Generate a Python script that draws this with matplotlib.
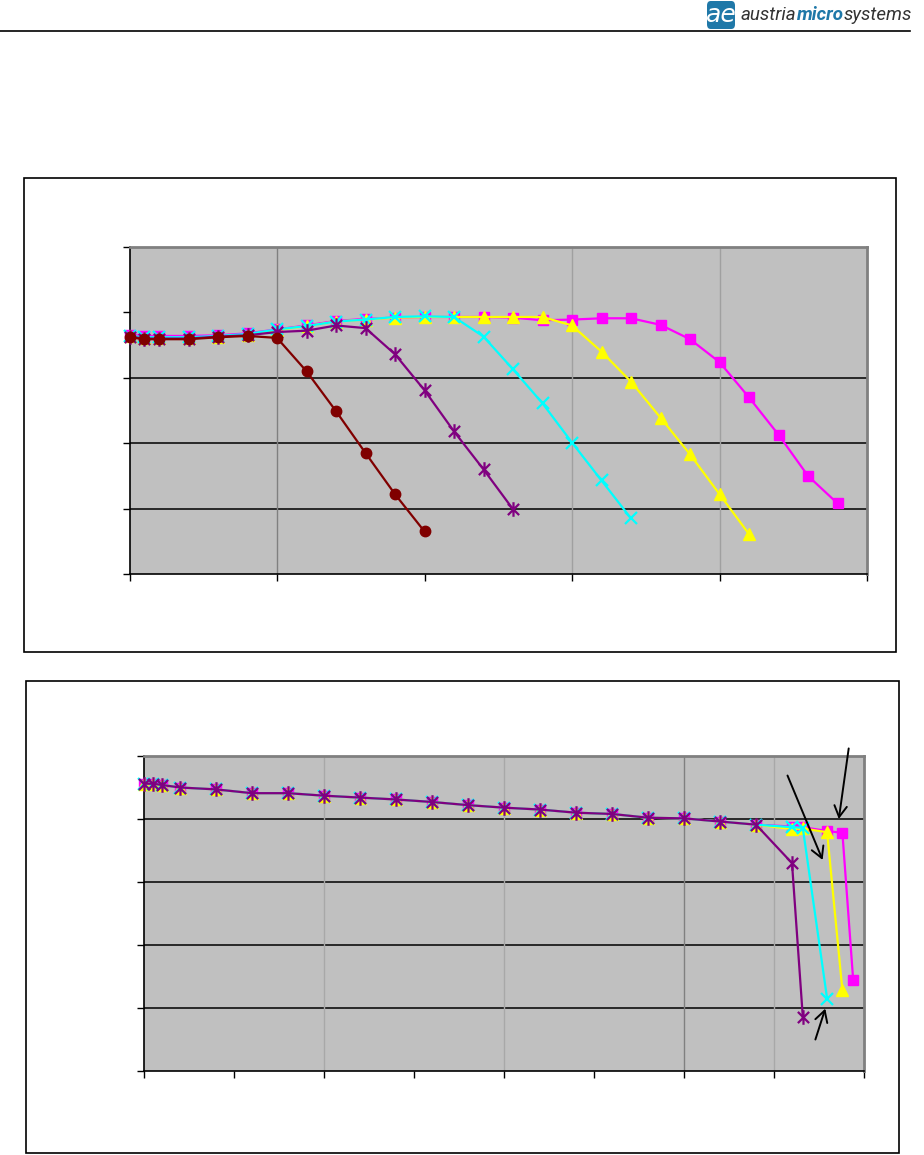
"""
Two line charts (Excel style) with header logo, no tick labels.
"""

import matplotlib.pyplot as plt
from matplotlib.patches import Rectangle, FancyBboxPatch
from matplotlib.lines import Line2D
from matplotlib.path import Path
from matplotlib.offsetbox import TextArea, HPacker, AnnotationBbox

# ---- top chart data ----
x_top = [0, 0.1, 0.2, 0.4, 0.6, 0.8, 1.0, 1.2, 1.4, 1.6, 1.8, 2.0, 2.2, 2.4,
         2.6, 2.8, 3.0, 3.2, 3.4, 3.6, 3.8, 4.0, 4.2, 4.4, 4.6, 4.8]

top_magenta = [3.66, 3.64, 3.64, 3.64, 3.65, 3.68, 3.74, 3.80, 3.87, 3.90,
               3.92, 3.93, 3.93, 3.93, 3.92, 3.88, 3.89, 3.91, 3.91, 3.81,
               3.59, 3.24, 2.70, 2.13, 1.50, 1.08]
top_yellow = [3.64, 3.61, 3.61, 3.61, 3.63, 3.66, 3.73, 3.79, 3.86, 3.89,
              3.92, 3.93, 3.93, 3.93, 3.93, 3.93, 3.80, 3.40, 2.94, 2.39,
              1.83, 1.22, 0.61]
top_cyan = [3.64, 3.62, 3.62, 3.62, 3.64, 3.67, 3.74, 3.79, 3.86, 3.89,
            3.93, 3.94, 3.93, 3.63, 3.13, 2.61, 2.01, 1.43, 0.85]
top_purple = [3.63, 3.60, 3.60, 3.60, 3.63, 3.65, 3.70, 3.72, 3.80, 3.76,
              3.36, 2.81, 2.18, 1.60, 0.99]
top_darkred = [3.62, 3.59, 3.59, 3.59, 3.62, 3.64, 3.61, 3.10, 2.49, 1.85,
               1.22, 0.65]

# ---- bottom chart data ----
x_common = [0, 0.1, 0.2, 0.4, 0.8, 1.2, 1.6, 2.0, 2.4, 2.8, 3.2, 3.6, 4.0,
            4.4, 4.8, 5.2, 5.6, 6.0, 6.4, 6.8]
y_common = [4.56, 4.56, 4.54, 4.50, 4.47, 4.41, 4.41, 4.37, 4.34, 4.31,
            4.27, 4.22, 4.18, 4.15, 4.10, 4.08, 4.02, 4.01, 3.96, 3.91]

bot_magenta_x = x_common + [7.2, 7.32, 7.59, 7.76, 7.88]
bot_magenta_y = y_common + [3.88, 3.87, 3.81, 3.78, 1.44]
bot_yellow_x = x_common + [7.2, 7.32, 7.59, 7.76]
bot_yellow_y = y_common + [3.84, 3.85, 3.79, 1.28]
bot_cyan_x = x_common + [7.2, 7.32, 7.59]
bot_cyan_y = y_common + [3.87, 3.86, 1.15]
bot_purple_x = x_common + [7.2, 7.32]
bot_purple_y = y_common + [3.30, 0.86]

W, H = 924, 1155
fig = plt.figure(figsize=(W / 100, H / 100), dpi=100)

# Excel asterisk marker: X with a vertical bar
asterisk = Path(
    [(-1, -1), (1, 1), (-1, 1), (1, -1), (0, -1.3), (0, 1.3)],
    [Path.MOVETO, Path.LINETO] * 3,
)


def fig_rect(x0, y0, x1, y1):
    """pixel box (top-left origin) -> figure fraction rect"""
    return [x0 / W, 1 - y1 / H, (x1 - x0) / W, (y1 - y0) / H]


def style_axes(ax, xmax, ymax, hgrid, vgrid):
    ax.set_facecolor("#C0C0C0")
    ax.set_xlim(0, xmax)
    ax.set_ylim(0, ymax)
    ax.set_xticks(range(xmax + 1))
    ax.set_yticks(range(ymax + 1))
    ax.set_xticklabels([])
    ax.set_yticklabels([])
    ax.tick_params(direction="out", length=5, width=1, color="black")
    for s in ("left", "bottom"):
        ax.spines[s].set_color("black")
        ax.spines[s].set_linewidth(1.2)
    for s in ("top", "right"):
        ax.spines[s].set_color("#808080")
        ax.spines[s].set_linewidth(2)
    for y in hgrid:
        ax.axhline(y, color="black", lw=1.1, zorder=1)
    for x, c in vgrid:
        ax.axvline(x, color=c, lw=1, zorder=1)


def draw(ax, x, y, color, marker, ms, mew=1.0, z=3):
    ax.plot(x, y, color=color, lw=1.6, marker=marker, ms=ms,
            mfc=color, mec=color, mew=mew, clip_on=False, zorder=z)


# ---------------- header ----------------
fig.add_artist(Line2D([0, 910 / W], [1 - 31 / H, 1 - 31 / H],
                      color="black", lw=1.2))
fig.add_artist(FancyBboxPatch((707 / W, 1 - 29 / H), 28 / W, 28 / H,
                              boxstyle="round,pad=0.0,rounding_size=0.004",
                              fc="#1f78a8", ec="none"))
fig.text(721 / W, 1 - 15 / H, "ae", color="white", fontsize=18,
         style="italic", ha="center", va="center", family="DejaVu Sans")
logo_font = dict(fontsize=13.5, style="italic", family="Roboto")
logo = HPacker(children=[
    TextArea("austria", textprops=dict(color="#333333", **logo_font)),
    TextArea("micro", textprops=dict(color="#1f78a8", weight="bold",
                                     **logo_font)),
    TextArea("systems", textprops=dict(color="#333333", **logo_font)),
], pad=0, sep=0)
fig.add_artist(AnnotationBbox(logo, (741 / W, 1 - 15 / H),
                              xycoords="figure fraction", box_alignment=(0, 0.5),
                              frameon=False, pad=0))

# ---------------- chart frames ----------------
fig.add_artist(Rectangle((24 / W, 1 - 652 / H), 872 / W, 474 / H,
                         fill=False, ec="black", lw=1.2))
fig.add_artist(Rectangle((26 / W, 1 - 1153 / H), 873 / W, 472 / H,
                         fill=False, ec="black", lw=1.2))

# ---------------- top chart ----------------
ax1 = fig.add_axes(fig_rect(129.5, 247, 867, 574))
style_axes(ax1, 5, 5, hgrid=[1, 2, 3],
           vgrid=[(1, "#808080"), (3, "#a0a0a0"), (4, "#a0a0a0")])
draw(ax1, x_top[:len(top_magenta)], top_magenta, "#FF00FF", "s", 7.5, z=3)
draw(ax1, x_top[:len(top_yellow)], top_yellow, "#FFFF00", "^", 8.5, z=4)
draw(ax1, x_top[:len(top_cyan)], top_cyan, "#00FFFF", "x", 8.5, mew=1.6, z=5)
draw(ax1, x_top[:len(top_purple)], top_purple, "#800080", asterisk, 10.5,
     mew=1.6, z=6)
draw(ax1, x_top[:len(top_darkred)], top_darkred, "#800000", "o", 7.5, z=7)

# ---------------- bottom chart ----------------
ax2 = fig.add_axes(fig_rect(144, 756, 864, 1071))
style_axes(ax2, 8, 5, hgrid=[1, 2, 3, 4],
           vgrid=[(2, "#a8a8a8"), (4, "#a8a8a8"), (6, "#808080"),
                  (7, "#a8a8a8")])
draw(ax2, bot_magenta_x, bot_magenta_y, "#FF00FF", "s", 7.5, z=3)
draw(ax2, bot_yellow_x, bot_yellow_y, "#FFFF00", "^", 8.5, z=4)
draw(ax2, bot_cyan_x, bot_cyan_y, "#00FFFF", "x", 8.5, mew=1.6, z=5)
draw(ax2, bot_purple_x, bot_purple_y, "#800080", asterisk, 10.5, mew=1.6, z=6)

arrow = dict(arrowstyle="->,head_length=0.8,head_width=0.45",
             color="black", lw=1.4, shrinkA=0, shrinkB=0)
for tip, start in [((7.54, 3.35), (7.15, 4.69)),
                   ((7.72, 4.00), (7.83, 5.12)),
                   ((7.57, 0.99), (7.46, 0.50))]:
    ax2.annotate("", xy=tip, xytext=start, arrowprops=arrow,
                 annotation_clip=False, zorder=8)

fig.savefig("out.png", dpi=100)
plt.close(fig)
